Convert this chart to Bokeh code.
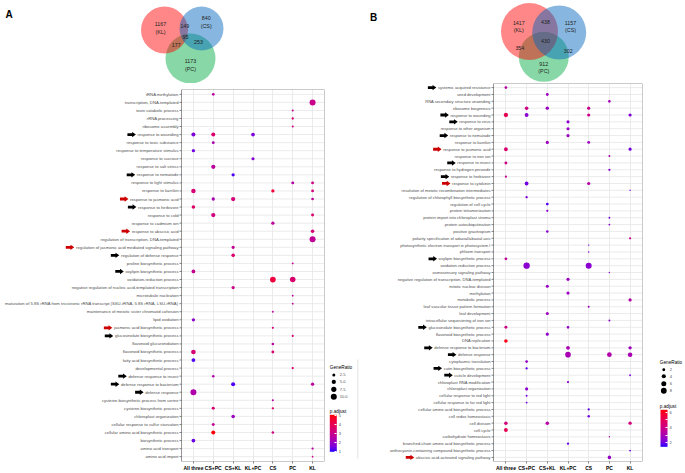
import math
from bokeh.plotting import figure
from bokeh.models import Range1d, FixedTicker, LinearColorMapper, ColorBar, ColumnDataSource
from bokeh.layouts import row, column
from bokeh.transform import transform
from bokeh.embed import file_html
from bokeh.resources import INLINE
from bokeh.core.properties import value

# ---------------------------------------------------------------- data
GROUPS = ["All three", "CS+PC", "CS+KL", "KL+PC", "CS", "PC", "KL"]

# Venn counts: KL only, CS only, PC only, KL&CS, KL&PC, CS&PC, all three
VENN_SETS = ["KL", "CS", "PC"]
VENN_A = [1167, 840, 1173, 149, 177, 253, 95]
VENN_B = [1417, 1157, 912, 438, 354, 302, 430]

A_ROWS = [
    "tRNA methylation", "transcription, DNA-templated", "toxin catabolic process",
    "rRNA processing", "ribosome assembly", "response to wounding",
    "response to toxic substance", "response to temperature stimulus",
    "response to sucrose", "response to salt stress", "response to nematode",
    "response to light stimulus", "response to karrikin", "response to jasmonic acid",
    "response to herbivore", "response to cold", "response to cadmium ion",
    "response to abscisic acid", "regulation of transcription, DNA-templated",
    "regulation of jasmonic acid mediated signaling pathway",
    "regulation of defense response", "proline biosynthetic process",
    "oxylipin biosynthetic process", "oxidation-reduction process",
    "negative regulation of nucleic acid-templated transcription",
    "microtubule nucleation",
    "maturation of 5.8S rRNA from tricistronic rRNA transcript (SSU-rRNA, 5.8S rRNA, LSU-rRNA)",
    "maintenance of meiotic sister chromatid cohesion", "lipid oxidation",
    "jasmonic acid biosynthetic process", "glucosinolate biosynthetic process",
    "flavonoid glucuronidation", "flavonoid biosynthetic process",
    "fatty acid biosynthetic process", "developmental process",
    "defense response to insect", "defense response to bacterium", "defense response",
    "cysteine biosynthetic process from serine", "cysteine biosynthetic process",
    "chloroplast organization", "cellular response to sulfur starvation",
    "cellular amino acid biosynthetic process", "biosynthetic process",
    "amino acid transport", "amino acid import",
]
A_ROW = [0, 1, 2, 3, 4, 5, 5, 5, 6, 7, 8, 9, 10, 11, 11, 12, 12, 12, 13, 13, 13,
         14, 15, 15, 16, 17, 18, 19, 20, 21, 22, 23, 23, 24, 25, 26, 27, 28, 29,
         30, 31, 32, 32, 33, 34, 35, 36, 36, 37, 38, 39, 39, 40, 41, 42, 42, 43,
         44, 45]
A_GRP = ["CS+PC", "KL", "PC", "PC", "PC", "All three", "CS+PC", "KL+PC", "CS+PC",
         "All three", "KL+PC", "CS+PC", "CS+KL", "PC", "KL", "All three", "CS", "KL",
         "CS+PC", "CS+KL", "KL", "All three", "CS+PC", "KL", "CS", "KL", "KL", "CS+KL",
         "CS+KL", "PC", "All three", "CS", "PC", "CS+KL", "PC", "PC", "CS", "All three",
         "CS", "PC", "CS", "All three", "CS", "All three", "PC", "CS+PC", "CS+KL", "KL",
         "All three", "CS", "CS+PC", "CS", "CS+KL", "CS+PC", "CS+PC", "CS", "All three",
         "KL", "KL"]
A_RATIO = [2.0, 10.0, 1.2, 1.5, 1.2, 4.5, 4.5, 4.0, 2.3, 3.0, 2.8, 5.0, 3.0, 2.3, 2.3,
           5.5, 3.0, 2.2, 3.0, 5.0, 2.0, 3.5, 5.0, 2.5, 3.0, 3.5, 10.0, 3.0, 3.5, 1.0,
           4.0, 9.0, 8.5, 3.0, 0.9, 0.9, 0.9, 3.0, 1.2, 1.2, 1.8, 6.0, 2.2, 4.0, 1.5,
           1.8, 4.5, 3.0, 10.0, 1.2, 2.5, 1.5, 3.5, 2.5, 4.5, 1.8, 4.0, 1.5, 0.8]
A_PADJ = [2.6, 3.0, 2.8, 3.5, 3.1, 1.6, 3.5, 1.6, 2.3, 1.5, 1.7, 2.6, 1.2, 2.5, 3.1,
          3.4, 4.4, 3.3, 2.3, 3.3, 2.7, 3.6, 3.2, 3.5, 2.7, 3.4, 2.8, 2.8, 3.5, 3.0,
          2.9, 4.3, 3.5, 3.1, 2.8, 2.6, 2.7, 1.8, 3.3, 3.3, 2.6, 3.4, 3.5, 1.2, 3.5,
          2.4, 1.2, 2.7, 2.4, 2.6, 3.5, 3.6, 2.0, 2.8, 5.0, 3.2, 1.4, 2.7, 3.0]
A_ARROW_BLACK = ["response to wounding", "response to nematode", "response to herbivore",
                 "regulation of defense response", "oxylipin biosynthetic process",
                 "glucosinolate biosynthetic process", "defense response to insect",
                 "defense response to bacterium", "defense response"]
A_ARROW_RED = ["response to jasmonic acid", "response to abscisic acid",
               "regulation of jasmonic acid mediated signaling pathway",
               "jasmonic acid biosynthetic process"]
A_SIZE_KEYS = [2.5, 5.0, 7.5, 10.0]
A_PADJ_TICKS = [1, 2, 3, 4, 5]

B_ROWS = [
    "systemic acquired resistance", "seed development", "RNA secondary structure unwinding",
    "ribosome biogenesis", "response to wounding", "response to virus",
    "response to other organism", "response to nematode", "response to karrikin",
    "response to jasmonic acid", "response to iron ion", "response to insect",
    "response to hydrogen peroxide", "response to herbivore", "response to cytokinin",
    "resolution of meiotic recombination intermediates",
    "regulation of chlorophyll biosynthetic process", "regulation of cell cycle",
    "protein tetramerization", "protein import into chloroplast stroma",
    "protein autoubiquitination", "positive gravitropism",
    "polarity specification of adaxial/abaxial axis",
    "photosynthetic electron transport in photosystem I", "phloem transport",
    "oxylipin biosynthetic process", "oxidation-reduction process",
    "osmosensory signaling pathway", "negative regulation of transcription, DNA-templated",
    "mitotic nuclear division", "methylation", "metabolic process",
    "leaf vascular tissue pattern formation", "leaf development",
    "intracellular sequestering of iron ion", "glucosinolate biosynthetic process",
    "flavonoid biosynthetic process", "DNA replication", "defense response to bacterium",
    "defense response", "cytoplasmic translation", "cutin biosynthetic process",
    "cuticle development", "chloroplast RNA modification", "chloroplast organization",
    "cellular response to red light", "cellular response to far red light",
    "cellular amino acid biosynthetic process", "cell redox homeostasis", "cell division",
    "cell cycle", "carbohydrate homeostasis",
    "branched-chain amino acid biosynthetic process",
    "anthocyanin-containing compound biosynthetic process",
    "abscisic acid-activated signaling pathway",
]
B_ROW = [0, 1, 2, 3, 3, 3, 4, 4, 4, 4, 5, 6, 7, 8, 8, 9, 9, 10, 11, 12, 13, 14, 14,
         15, 16, 17, 18, 19, 20, 21, 22, 23, 24, 25, 26, 26, 27, 28, 29, 30, 31, 32,
         33, 34, 35, 35, 36, 37, 38, 38, 39, 39, 39, 40, 41, 42, 43, 44, 45, 46, 47,
         48, 49, 49, 49, 50, 51, 52, 53, 54]
B_GRP = ["All three", "CS+KL", "PC", "CS+PC", "CS+KL", "CS", "All three", "CS+PC", "CS",
         "KL", "KL+PC", "KL+PC", "KL+PC", "CS+KL", "CS", "All three", "KL", "PC",
         "All three", "PC", "All three", "CS+PC", "CS", "KL", "CS+PC", "CS+KL", "CS+KL",
         "PC", "PC", "CS+KL", "KL", "CS", "CS", "All three", "CS+PC", "CS", "PC",
         "KL+PC", "CS+KL", "KL+PC", "KL", "CS", "CS+KL", "PC", "All three", "KL+PC",
         "CS+KL", "All three", "KL+PC", "KL", "KL+PC", "PC", "KL", "CS+PC", "CS+PC",
         "KL", "KL+PC", "CS+PC", "CS+PC", "CS+PC", "CS", "CS", "All three", "CS+KL",
         "KL", "All three", "PC", "KL+PC", "KL", "PC"]
B_RATIO = [1.8, 2.0, 1.8, 3.0, 2.7, 2.4, 4.4, 3.5, 2.5, 2.5, 2.3, 2.3, 2.5, 2.5, 2.0,
           3.5, 2.5, 0.9, 2.0, 1.2, 1.2, 3.5, 2.4, 0.5, 1.3, 1.8, 1.2, 0.8, 0.8, 1.5,
           1.2, 0.5, 0.5, 1.8, 9.5, 8.6, 0.5, 2.4, 2.2, 2.4, 2.5, 1.0, 2.2, 0.9, 2.0,
           1.8, 2.4, 3.0, 3.5, 2.7, 7.5, 5.3, 5.0, 1.8, 1.3, 0.8, 1.2, 2.3, 0.9, 0.9,
           1.2, 1.4, 3.0, 3.0, 2.7, 3.5, 0.5, 1.2, 0.8, 3.0]
B_PADJ = [3.3, 2.8, 2.9, 4.0, 2.7, 3.9, 5.0, 2.4, 3.9, 2.3, 2.5, 2.7, 2.7, 2.8, 2.8,
          4.5, 2.1, 3.0, 4.0, 2.4, 3.8, 2.1, 3.3, 2.2, 2.3, 1.8, 2.5, 2.2, 2.4, 2.4,
          3.8, 2.1, 2.5, 3.7, 2.4, 2.4, 2.5, 2.8, 2.7, 2.7, 3.3, 2.7, 2.8, 2.4, 4.0,
          2.6, 2.5, 6.1, 3.0, 2.8, 3.0, 3.2, 3.0, 2.6, 1.9, 2.2, 2.6, 2.5, 2.2, 2.2,
          1.9, 2.1, 4.2, 3.3, 4.2, 5.0, 3.2, 2.0, 2.1, 2.6]
B_ARROW_BLACK = ["systemic acquired resistance", "response to wounding", "response to virus",
                 "response to nematode", "response to insect", "response to herbivore",
                 "oxylipin biosynthetic process", "glucosinolate biosynthetic process",
                 "defense response to bacterium", "defense response",
                 "cutin biosynthetic process", "cuticle development"]
B_ARROW_RED = ["response to jasmonic acid", "response to cytokinin",
               "abscisic acid-activated signaling pathway"]
B_SIZE_KEYS = [2, 4, 6, 8]
B_PADJ_TICKS = [2, 3, 4, 5, 6]

# ---------------------------------------------------------------- helpers
FONT = "Liberation Sans"
TOP_H = 83          # height of the Venn row
LOW_H = 473 - TOP_H  # height of the dot-plot row


def _lin(c):
    c = c / 255.0
    return c / 12.92 if c <= 0.04045 else ((c + 0.055) / 1.055) ** 2.4


def _gam(c):
    c = max(0.0, c)
    c = 12.92 * c if c <= 0.0031308 else 1.055 * c ** (1 / 2.4) - 0.055
    return max(0, min(255, int(round(c * 255))))


_M = [[0.4124, 0.3576, 0.1805], [0.2126, 0.7152, 0.0722], [0.0193, 0.1192, 0.9505]]
_MI = [[3.2406, -1.5372, -0.4986], [-0.9689, 1.8758, 0.0415], [0.0557, -0.2040, 1.0570]]
_WN = (0.95047, 1.0, 1.08883)


def _f(t):
    return t ** (1 / 3) if t > 0.008856 else 7.787 * t + 16 / 116


def _fi(t):
    return t ** 3 if t ** 3 > 0.008856 else (t - 16 / 116) / 7.787


def to_lab(rgb):
    lin = [_lin(c) for c in rgb]
    X, Y, Z = [sum(_M[i][j] * lin[j] for j in range(3)) for i in range(3)]
    fx, fy, fz = _f(X / _WN[0]), _f(Y / _WN[1]), _f(Z / _WN[2])
    return (116 * fy - 16, 500 * (fx - fy), 200 * (fy - fz))


def from_lab(L, a, b):
    fy = (L + 16) / 116
    fx = fy + a / 500
    fz = fy - b / 200
    xyz = (_WN[0] * _fi(fx), _WN[1] * _fi(fy), _WN[2] * _fi(fz))
    lin = [sum(_MI[i][j] * xyz[j] for j in range(3)) for i in range(3)]
    return "#%02x%02x%02x" % tuple(_gam(c) for c in lin)


LO, HI = to_lab((0, 0, 255)), to_lab((255, 0, 0))
PALETTE = [from_lab(*[LO[k] + (HI[k] - LO[k]) * i / 255 for k in range(3)]) for i in range(256)]

_W = {}
for chars, w in [("abdeghnopqu0123456789", 556), ("ckszvxy", 500),
                 ("r()-", 333), ("m", 833), ("w", 722), ("ABEKPSVXY", 667),
                 ("CDHNRU", 722), ("FTZ", 611), ("GOQ", 778), ("J", 500), ("L", 556),
                 ("M", 833), ("W", 944), ("I", 278)]:
    for ch in chars:
        _W[ch] = w
for ch, w in [("f", 278), ("t", 278), ("i", 222), ("j", 222), ("l", 222), ("/", 278),
              (" ", 278), (",", 278), (".", 278), ("'", 191)]:
    _W[ch] = w


def text_width(s, px):
    return sum(_W.get(ch, 556) for ch in s) * px / 1000.0


def blank_fig(width, height, x0, x1, y0, y1):
    p = figure(width=width, height=height, x_range=Range1d(x0, x1), y_range=Range1d(y0, y1),
               toolbar_location=None, output_backend="svg", x_axis_type=None,
               y_axis_type=None, min_border=0)
    p.outline_line_color = None
    p.background_fill_color = "white"
    p.border_fill_color = "white"
    return p


def venn_fig(counts, x0, width, tag, tag_pos, circles, spots):
    p = blank_fig(width, TOP_H, x0, x0 + width, TOP_H, 0)
    cols = ["#00ad41", "#ff0000", "#0065bd"]   # PC, KL, CS drawn in this order
    (kx, ky, kr), (cx, cy, cr), (gx, gy, gr) = circles
    p.ellipse(x=[gx, kx, cx], y=[gy, ky, cy], width=[2 * gr, 2 * kr, 2 * cr],
              height=[2 * gr, 2 * kr, 2 * cr], fill_color=cols, fill_alpha=0.47,
              line_color=None)
    labels = [f"{counts[0]}\n({VENN_SETS[0]})", f"{counts[1]}\n({VENN_SETS[1]})",
              f"{counts[2]}\n({VENN_SETS[2]})", str(counts[3]), str(counts[4]),
              str(counts[5]), str(counts[6])]
    p.text(x=[s[0] for s in spots], y=[s[1] for s in spots], text=labels,
           text_align="center", text_baseline="middle", text_font=value(FONT),
           text_font_size="5.3px", text_color="#222222", text_line_height=1.3)
    p.text(x=[tag_pos[0]], y=[tag_pos[1]], text=[tag], text_align="left",
           text_baseline="middle", text_font=value(FONT), text_font_size="10px",
           text_font_style="bold", text_color="black")
    return p


def dot_fig(rows, row_idx, grp, ratio, padj, arrows_black, arrows_red, width,
            ext_left, dot_w, b_top, b_bottom, font_px, k_size, mapper):
    n = len(rows)
    x0, x1 = 0.4, 7.6
    ppx = dot_w / (x1 - x0)
    b_right = width - ext_left - dot_w
    y_top, y_bot = -0.6, n - 1 + 0.6
    p = figure(width=width, height=LOW_H, x_range=Range1d(x0 - ext_left / ppx, x1),
               y_range=Range1d(y_bot, y_top), toolbar_location=None,
               output_backend="svg", y_axis_type=None, min_border_left=0,
               min_border_right=b_right, min_border_top=b_top, min_border_bottom=b_bottom)
    p.outline_line_color = None
    p.background_fill_color = "white"
    p.border_fill_color = "white"
    idx = list(range(n))

    # horizontal grid lines (one per term) and panel border
    p.segment(x0=[x0] * n, x1=[x1] * n, y0=idx, y1=idx, line_color="#E6E6E6",
              line_width=0.8)
    p.quad(left=[x0], right=[x1], top=[y_top], bottom=[y_bot], fill_color=None,
           line_color="#8a8a8a", line_width=0.9)

    # term labels with their tick marks
    p.segment(x0=[x0 - 2 / ppx] * n, x1=[x0] * n, y0=idx, y1=idx, line_color="#333333",
              line_width=0.6)
    p.text(x=[x0 - 3 / ppx] * n, y=idx, text=rows, text_align="right",
           text_baseline="middle", text_font=value(FONT), text_font_size=f"{font_px}px",
           text_color="#4D4D4D")

    # block arrows in front of highlighted terms
    ppr = (LOW_H - b_top - b_bottom) / (y_bot - y_top)
    sh, hh = 1.4 / ppr, 2.7 / ppr
    axs, ays, acol = [], [], []
    for names, colr in ((arrows_black, "black"), (arrows_red, "#CC0000")):
        for name in names:
            y = rows.index(name)
            xr = -(3 + text_width(name, font_px) + 1.5)
            sx = [xr - 8.5, xr - 3.8, xr - 3.8, xr, xr - 3.8, xr - 3.8, xr - 8.5]
            axs.append([x0 + v / ppx for v in sx])
            ays.append([y - sh, y - sh, y - hh, y, y + hh, y + sh, y + sh])
            acol.append(colr)
    p.patches(xs=axs, ys=ays, fill_color=acol, line_color=None)

    src = ColumnDataSource(dict(
        x=[GROUPS.index(g) + 1 for g in grp],
        y=row_idx,
        size=[k_size * math.sqrt(v) for v in ratio],
        padj=padj,
    ))
    p.scatter("x", "y", size="size", source=src, fill_color=transform("padj", mapper),
              line_color=None)

    p.xaxis.ticker = FixedTicker(ticks=list(range(1, 8)))
    p.xaxis.major_label_overrides = {i + 1: g for i, g in enumerate(GROUPS)}
    p.xgrid.grid_line_color = "#E6E6E6"
    p.xgrid.grid_line_width = 0.8
    p.xaxis.axis_line_color = None
    p.xaxis.minor_tick_line_color = None
    p.xaxis.major_tick_out = 2
    p.xaxis.major_tick_in = 0
    p.xaxis.major_tick_line_color = "#333333"
    p.xaxis.major_tick_line_width = 0.6
    p.xaxis.major_label_standoff = 1
    p.xaxis.major_label_text_font_size = "5px"
    p.xaxis.major_label_text_font_style = "bold"
    p.xaxis.major_label_text_color = "black"
    p.xaxis.major_label_text_font = FONT
    return p


def legend_fig(x0, width, keys, k_size, mapper, ticks, title_xy, dot_x, label_x,
               key_ys, cb_title_y, cb_loc, cb_w, cb_h, edge=None):
    p = blank_fig(width, LOW_H, x0, x0 + width, 473, TOP_H)
    if edge is not None:
        p.segment(x0=[edge[0]], x1=[edge[0]], y0=[edge[1]], y1=[edge[2]],
                  line_color="#DDDDDD", line_width=0.8)
    p.text(x=[title_xy[0], title_xy[0]], y=[title_xy[1], cb_title_y],
           text=["GeneRatio", "p.adjust"], text_align="left",
           text_baseline="middle", text_font=value(FONT), text_font_size="4.7px",
           text_color="black")
    p.scatter(x=[dot_x] * len(keys), y=key_ys, size=[k_size * math.sqrt(v) for v in keys],
              fill_color="black", line_color=None)
    p.text(x=[label_x] * len(keys), y=key_ys, text=[str(k) for k in keys],
           text_align="left", text_baseline="middle", text_font=value(FONT),
           text_font_size="4px", text_color="#4D4D4D")
    cb = ColorBar(color_mapper=mapper, ticker=FixedTicker(ticks=ticks),
                  orientation="vertical", location=cb_loc, width=cb_w, height=cb_h,
                  padding=0, title=None,
                  major_label_text_font_size="4px", major_label_text_color="#4D4D4D",
                  major_label_text_font=FONT, label_standoff=2,
                  major_tick_line_color="white", major_tick_in=2, major_tick_out=0,
                  minor_tick_line_color=None, bar_line_color=None,
                  background_fill_alpha=0, border_line_color=None)
    p.add_layout(cb, "center")
    return p


# ---------------------------------------------------------------- panel A
map_a = LinearColorMapper(palette=PALETTE, low=0.96, high=5.07)
venn_a = venn_fig(VENN_A, 0, 360, "A", (5, 13.5),
                  [(164, 29.5, 23.5), (201, 28, 22), (190, 58, 25)],
                  [(160, 27.5), (205.7, 21.3), (190, 64.7), (184.3, 25.3), (175.7, 44.3),
                   (198, 41.7), (185, 36)])
dot_a = dot_fig(A_ROWS, A_ROW, A_GRP, A_RATIO, A_PADJ, A_ARROW_BLACK, A_ARROW_RED,
                327, 181, 143, 6, 10, 4.2, 1.9, map_a)
leg_a = legend_fig(327, 33, A_SIZE_KEYS, 1.9, map_a, A_PADJ_TICKS, (329.3, 374.7), 333.3,
                   339.3, [382.3, 389.6, 397.3, 405.0], 421.0, (2.3, 9.7), 7, 37,
                   edge=(357.3, 366, 470))

# ---------------------------------------------------------------- panel B
map_b = LinearColorMapper(palette=PALETTE, low=1.5, high=6.3)
venn_b = venn_fig(VENN_B, 360, 325, "B", (369.5, 16.5),
                  [(529, 31, 28.5), (558.7, 32, 27), (543.3, 56.3, 25)],
                  [(518.3, 26), (570, 26), (543.3, 67), (545, 21.7), (519.3, 47.7),
                   (567.7, 50), (545, 40.7)])
dot_b = dot_fig(B_ROWS, B_ROW, B_GRP, B_RATIO, B_PADJ, B_ARROW_BLACK, B_ARROW_RED,
                285, 133, 149, 0, 11, 4.1, 2.05, map_b)
leg_b = legend_fig(645, 40, B_SIZE_KEYS, 2.05, map_b, B_PADJ_TICKS, (659.3, 370.7), 663.3,
                   669.3, [378.3, 385.0, 392.7, 400.0], 416.7, (15.0, 14.7), 7, 37)

layout = row(column(venn_a, row(dot_a, leg_a)), column(venn_b, row(dot_b, leg_b)))

open("out.html", "w").write(file_html(layout, INLINE))
